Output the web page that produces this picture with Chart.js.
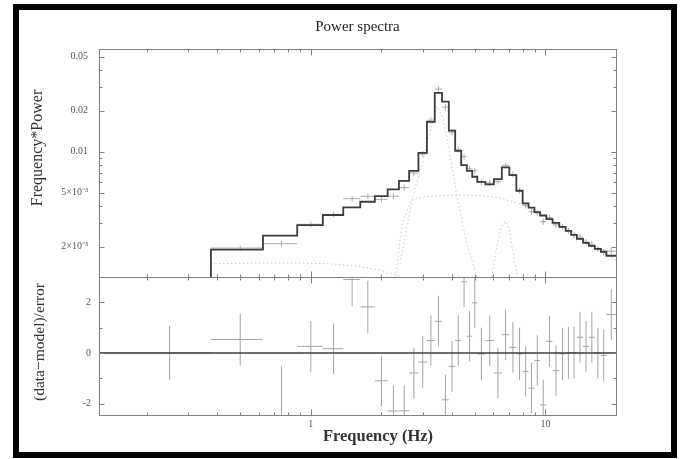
<!DOCTYPE html>
<html>
<head>
<meta charset="utf-8">
<script src="https://cdn.jsdelivr.net/npm/chart.js@4.4.1/dist/chart.umd.min.js"></script>
<style>
  html, body { margin: 0; padding: 0; background: #fff; }
  #wrap { position: relative; width: 681px; height: 459px; overflow: hidden; background: #fff; }
  #plot { position: absolute; left: 0; top: 0; }
  #frame { position: absolute; left: 13px; top: 4px; width: 652px; height: 442px;
           border: 6px solid #000; pointer-events: none; }
</style>
</head>
<body>
<div id="wrap">
  <canvas id="plot" width="681" height="459"></canvas>
  <div id="frame"></div>
</div>
<script>
// Frequency bin edges (Hz); bin i spans binEdges[i]..binEdges[i+1]
const binEdges = [0.125, 0.375, 0.625, 0.875, 1.125, 1.375, 1.625, 1.875, 2.125, 2.375,
  2.625, 2.875, 3.125, 3.375, 3.625, 3.875, 4.125, 4.375, 4.625, 4.875,
  5.125, 5.55, 6.03, 6.52, 7.02, 7.52, 8.0, 8.48, 8.98, 9.49,
  10.09, 10.73, 11.46, 12.2, 12.87, 13.62, 14.48, 15.32, 16.24, 17.25,
  18.2, 20.0];

// Best-fit model, frequency*power per bin
const modelPower = [0.0009, 0.00191, 0.00242, 0.00289, 0.00343, 0.00390, 0.00429, 0.00472, 0.00529, 0.00612,
  0.00725, 0.00983, 0.01662, 0.02716, 0.02339, 0.01432, 0.01017, 0.00798, 0.00725, 0.00655,
  0.00600, 0.00575, 0.00630, 0.00768, 0.00674, 0.00517, 0.00418, 0.00388, 0.00360, 0.00340,
  0.00320, 0.00300, 0.00280, 0.00262, 0.00245, 0.00229, 0.00214, 0.00203, 0.00193, 0.00184,
  0.00172];

// Measured frequency*power and its 1-sigma error per bin
const dataPower = [0.0009, 0.00196, 0.00211, 0.00293, 0.00346, 0.00452, 0.00470, 0.00447, 0.00471, 0.00545,
  0.00697, 0.00965, 0.01704, 0.02893, 0.02131, 0.01393, 0.01042, 0.00920, 0.00750, 0.00724,
  0.00599, 0.00589, 0.00605, 0.00796, 0.00681, 0.00516, 0.00403, 0.00362, 0.00355, 0.00306,
  0.00328, 0.00290, 0.00280, 0.00262, 0.00245, 0.00236, 0.00217, 0.00209, 0.00193, 0.00183,
  0.00186];
const dataPowerErr = [0.00005, 0.00009, 0.00010, 0.00014, 0.00016, 0.00021, 0.00022, 0.00021, 0.00025, 0.00028,
  0.00035, 0.00048, 0.00085, 0.00140, 0.00110, 0.00070, 0.00052, 0.00046, 0.00038, 0.00036,
  0.00030, 0.00030, 0.00030, 0.00040, 0.00034, 0.00026, 0.00020, 0.00018, 0.00018, 0.00016,
  0.00016, 0.00015, 0.00014, 0.00013, 0.00013, 0.00012, 0.00011, 0.00011, 0.00010, 0.00010,
  0.00010];

// Residuals (data-model)/error and their error bars
const residuals = [0.0, 0.53, -2.7, 0.26, 0.17, 2.9, 1.82, -1.1, -2.29, -2.28,
  -0.79, -0.36, 0.49, 1.25, -1.85, -0.53, 0.49, 2.81, 0.66, 1.98,
  -0.04, 0.49, -0.79, 0.72, 0.22, -0.04, -0.73, -1.39, -0.3, -2.05,
  0.46, -0.7, -0.04, 0.0, 0.02, 0.62, 0.26, 0.62, 0.0, -0.1,
  1.52];
const residualErr = [1.07, 1.02, 2.17, 1.0, 1.0, 1.05, 1.03, 1.0, 1.0, 1.0,
  1.0, 1.02, 1.0, 1.0, 1.0, 1.0, 1.0, 1.0, 1.0, 1.0,
  1.04, 1.0, 1.0, 1.0, 1.0, 1.04, 1.0, 1.0, 1.0, 1.0,
  1.0, 1.0, 1.03, 1.03, 1.03, 1.0, 1.0, 1.0, 1.0, 1.02,
  1.0];

// Individual model components (frequency, frequency*power)
const lowCompFreq  = [0.375, 0.6, 0.9, 1.2, 1.6, 2.0, 2.4];
const lowCompPower = [0.00150, 0.00152, 0.00152, 0.00150, 0.00144, 0.00134, 0.00122];
const broadCompFreq  = [2.3, 2.45, 2.7, 3.2, 4.0, 5.0, 6.3, 8.0, 10.0, 13.0, 16.0, 20.0];
const broadCompPower = [0.0012, 0.0030, 0.0045, 0.0047, 0.0048, 0.0048, 0.0046, 0.0041, 0.0034, 0.0026, 0.0020, 0.0016];
const qpo1Freq  = [2.4, 2.72, 3.0, 3.25, 3.45, 3.65, 3.9, 4.2, 4.6, 5.1];
const qpo1Power = [0.0015, 0.0047, 0.0085, 0.0150, 0.0215, 0.0180, 0.0100, 0.0047, 0.0022, 0.0012];
const qpo2Freq  = [5.9, 6.2, 6.5, 6.75, 7.0, 7.3, 7.6];
const qpo2Power = [0.0012, 0.0020, 0.0028, 0.0031, 0.0027, 0.0018, 0.0012];

// Axis ranges and ticks
const freqRange  = [0.125, 20];
const powerRange = [0.0012, 0.057];
const residRange = [-2.45, 3];
const freqTicks = [1, 10];
const freqTickLabels = ['1', '10'];
const freqMinorTicks = [0.2, 0.3, 0.4, 0.5, 0.6, 0.7, 0.8, 0.9, 1, 2, 3, 4, 5, 6, 7, 8, 9, 10];
const powerTicks = [0.002, 0.005, 0.01, 0.02, 0.05];
const powerTickLabels = ['2×10⁻³', '5×10⁻³', '0.01', '0.02', '0.05'];
const powerMinorTicks = [0.002, 0.003, 0.004, 0.005, 0.006, 0.007, 0.008, 0.009, 0.01, 0.02, 0.03, 0.04, 0.05];
const residTicks = [-2, 0, 2];
const residMinorTicks = [-2, -1, 0, 1, 2];

// ---- helpers that turn bins into line points ----
function stepPoints(edges, vals) {
  const pts = vals.map((v, i) => ({ x: edges[i], y: v }));
  pts.push({ x: edges[edges.length - 1], y: vals[vals.length - 1] });
  return pts;
}
function crossPoints(edges, vals, errs) {
  const pts = [];
  vals.forEach((v, i) => {
    const lo = edges[i], hi = edges[i + 1], mid = (lo + hi) / 2;
    pts.push({ x: lo, y: v }, { x: hi, y: v }, { x: hi, y: null });
    pts.push({ x: mid, y: v - errs[i] }, { x: mid, y: v + errs[i] }, { x: mid, y: null });
  });
  return pts;
}
function curvePoints(xs, ys) { return xs.map((x, i) => ({ x, y: ys[i] })); }

const serif = 'Liberation Serif, Times New Roman, serif';

// clip each dataset to its own panel
const panelClip = {
  id: 'panelClip',
  beforeDatasetDraw(chart, args) {
    const ys = chart.scales[args.meta.yAxisID];
    const a = chart.chartArea, ctx = chart.ctx;
    ctx.save();
    ctx.beginPath();
    ctx.rect(a.left, ys.top, a.right - a.left, ys.bottom - ys.top);
    ctx.clip();
  },
  afterDatasetDraw(chart) { chart.ctx.restore(); }
};

// panel frames with inward tick marks on all sides
const panelFrame = {
  id: 'panelFrame',
  afterDatasetsDraw(chart, args, opts) {
    const { ctx, chartArea: a, scales } = chart;
    const x = scales.x;
    ctx.save();
    ctx.strokeStyle = opts.color;
    ctx.lineWidth = 1;
    const seg = (x1, y1, x2, y2) => { ctx.beginPath(); ctx.moveTo(x1, y1); ctx.lineTo(x2, y2); ctx.stroke(); };
    const panels = [[scales.yP, powerMinorTicks, powerTicks], [scales.yR, residMinorTicks, residTicks]];
    for (const [ys, minor, major] of panels) {
      const t = Math.round(ys.top) + 0.5, b = Math.round(ys.bottom) + 0.5;
      const l = Math.round(a.left) + 0.5, r = Math.round(a.right) + 0.5;
      ctx.strokeRect(l, t, r - l, b - t);
      for (const v of freqMinorTicks) {
        const px = Math.round(x.getPixelForValue(v)) + 0.5;
        const len = freqTicks.includes(v) ? 6 : 3;
        seg(px, t, px, t + len);
        seg(px, b, px, b - len);
      }
      for (const v of minor) {
        const py = Math.round(ys.getPixelForValue(v)) + 0.5;
        const len = major.includes(v) ? 5 : 3;
        seg(l, py, l + len, py);
        seg(r, py, r - len, py);
      }
    }
    ctx.restore();
  }
};

// axis captions
const captions = {
  id: 'captions',
  afterDraw(chart, args, opts) {
    const ctx = chart.ctx;
    ctx.save();
    ctx.fillStyle = opts.color;
    ctx.textAlign = 'center';
    ctx.textBaseline = 'middle';
    for (const c of opts.items) {
      ctx.save();
      ctx.font = c.font;
      ctx.translate(c.x, c.y);
      if (c.rotate) ctx.rotate(c.rotate);
      ctx.fillText(c.text, 0, 0);
      ctx.restore();
    }
    ctx.restore();
  }
};

const tickFont = { family: serif, size: 10 };

new Chart(document.getElementById('plot'), {
  type: 'scatter',
  data: {
    datasets: [
      { label: 'model', data: stepPoints(binEdges, modelPower), yAxisID: 'yP', showLine: true, stepped: true,
        borderColor: '#3c3c3c', borderWidth: 1.8, pointRadius: 0 },
      { label: 'data', data: crossPoints(binEdges, dataPower, dataPowerErr), yAxisID: 'yP', showLine: true,
        borderColor: '#ababab', borderWidth: 1, pointRadius: 0 },
      { label: 'low-frequency component', data: curvePoints(lowCompFreq, lowCompPower), yAxisID: 'yP', showLine: true,
        borderColor: '#c8c8c8', borderWidth: 1, borderDash: [1.5, 2.5], pointRadius: 0 },
      { label: 'broad component', data: curvePoints(broadCompFreq, broadCompPower), yAxisID: 'yP', showLine: true,
        borderColor: '#c8c8c8', borderWidth: 1, borderDash: [1.5, 2.5], pointRadius: 0 },
      { label: 'QPO', data: curvePoints(qpo1Freq, qpo1Power), yAxisID: 'yP', showLine: true,
        borderColor: '#c8c8c8', borderWidth: 1, borderDash: [1.5, 2.5], pointRadius: 0 },
      { label: 'harmonic', data: curvePoints(qpo2Freq, qpo2Power), yAxisID: 'yP', showLine: true,
        borderColor: '#c8c8c8', borderWidth: 1, borderDash: [1.5, 2.5], pointRadius: 0 },
      { label: 'zero', data: [{ x: freqRange[0], y: 0 }, { x: freqRange[1], y: 0 }], yAxisID: 'yR', showLine: true,
        borderColor: '#3c3c3c', borderWidth: 1.5, pointRadius: 0 },
      { label: 'residuals', data: crossPoints(binEdges, residuals, residualErr), yAxisID: 'yR', showLine: true,
        borderColor: '#a4a4a4', borderWidth: 1, pointRadius: 0 }
    ]
  },
  options: {
    responsive: false,
    animation: false,
    devicePixelRatio: 1,
    events: [],
    layout: { padding: { left: 0, right: 65, top: 0, bottom: 0 } },
    scales: {
      x: {
        type: 'logarithmic', position: 'bottom', min: freqRange[0], max: freqRange[1], bounds: 'data',
        grid: { display: false, drawTicks: false }, border: { display: false },
        afterBuildTicks: s => { s.ticks = freqTicks.map(v => ({ value: v })); },
        afterFit: s => { s.height = 44; },
        ticks: { autoSkip: false, maxRotation: 0, padding: 3, color: '#555', font: tickFont,
                 callback: v => freqTickLabels[freqTicks.indexOf(v)] }
      },
      // residual panel (lower) is listed first so that the stacked layout puts it below the power panel
      yR: {
        type: 'linear', position: 'left', stack: 'panels', stackWeight: 138,
        min: residRange[0], max: residRange[1], bounds: 'data',
        grid: { display: false, drawTicks: false }, border: { display: false },
        afterBuildTicks: s => { s.ticks = residTicks.map(v => ({ value: v })); },
        afterFit: s => { s.width = 99; },
        ticks: { autoSkip: false, padding: 8, color: '#555', font: tickFont }
      },
      yP: {
        type: 'logarithmic', position: 'left', stack: 'panels', stackWeight: 228,
        min: powerRange[0], max: powerRange[1], bounds: 'data',
        grid: { display: false, drawTicks: false }, border: { display: false },
        afterBuildTicks: s => { s.ticks = powerTicks.map(v => ({ value: v })); },
        afterFit: s => { s.width = 99; },
        ticks: { autoSkip: false, padding: 11, color: '#555', font: tickFont,
                 callback: v => powerTickLabels[powerTicks.indexOf(v)] }
      }
    },
    plugins: {
      legend: { display: false },
      tooltip: { enabled: false },
      title: {
        display: true, text: 'Power spectra', fullSize: false, color: '#222',
        font: { family: serif, size: 15, weight: 'normal' },
        padding: { top: 18, bottom: 13 }
      },
      panelFrame: { color: '#808080' },
      captions: {
        color: '#333',
        items: [
          { text: 'Frequency*Power', x: 38, y: 148, rotate: -Math.PI / 2, font: '16px ' + serif },
          { text: '(data\u2212model)/error', x: 40, y: 342, rotate: -Math.PI / 2, font: '15.5px ' + serif },
          { text: 'Frequency (Hz)', x: 378, y: 437, font: 'bold 16.5px ' + serif }
        ]
      }
    }
  },
  plugins: [panelClip, panelFrame, captions]
});
</script>
</body>
</html>
